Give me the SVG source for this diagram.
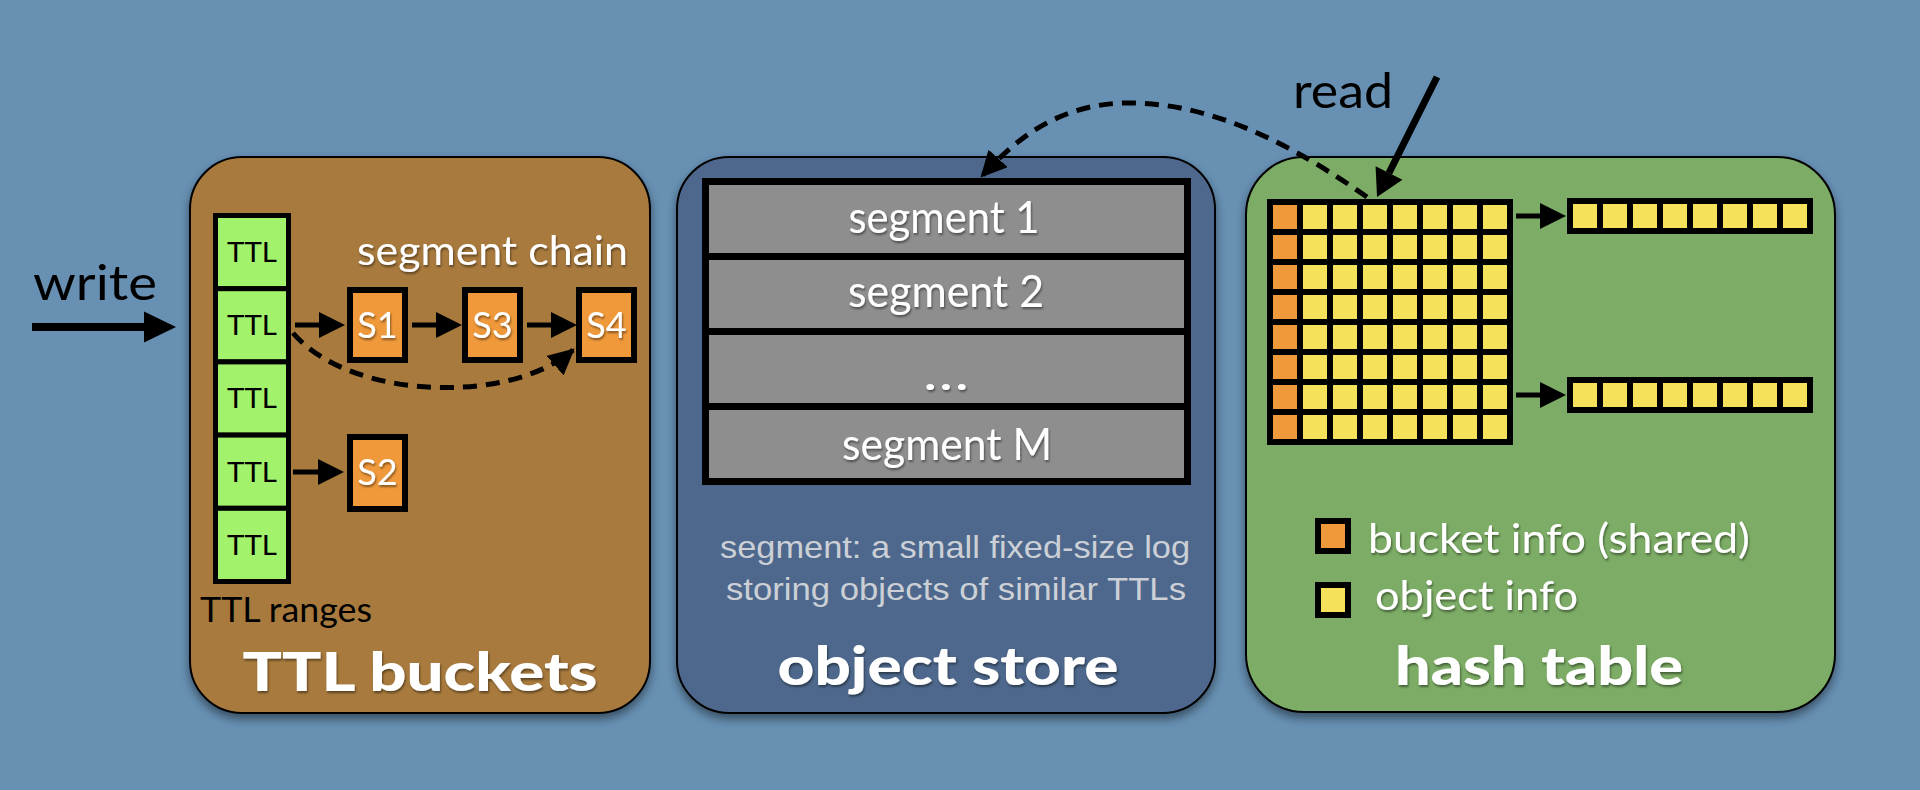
<svg xmlns="http://www.w3.org/2000/svg" width="1920" height="790" viewBox="0 0 1920 790">
<defs>
<style>
.panel{stroke:#000;stroke-width:2}
.ttl{fill:#a2f26b;stroke:#000;stroke-width:5}
.seg{fill:#f0993a;stroke:#000;stroke-width:6}
.row{fill:#8e8e8e;stroke:#000;stroke-width:7}
.cellO{fill:#f0993a}
.cellY{fill:#f5e15a}
.t{font-family:Lato,"Open Sans","Liberation Sans",sans-serif}
.title{font-family:Lato,"Open Sans","Liberation Sans",sans-serif;font-weight:900;font-size:54px;fill:#fff;text-anchor:middle}
.w{fill:#fff}
.k{fill:#000}
.c{text-anchor:middle}
.cap{font-family:"Liberation Sans",Arial,sans-serif;font-size:32px;fill:#ccd0d6;text-anchor:middle}
.arr{stroke:#000;stroke-width:5;fill:none}
.dash{stroke:#000;stroke-width:5;fill:none;stroke-dasharray:14 9}
</style>
<filter id="pshadow" x="-10%" y="-10%" width="120%" height="125%">
<feDropShadow dx="0" dy="5" stdDeviation="5" flood-color="#000" flood-opacity="0.45"/>
</filter>
<filter id="tshadow" x="-10%" y="-20%" width="120%" height="150%">
<feDropShadow dx="1" dy="2" stdDeviation="1.2" flood-color="#000" flood-opacity="0.45"/>
</filter>
<marker id="ah" markerUnits="userSpaceOnUse" markerWidth="26" markerHeight="26" viewBox="0 0 24 24" refX="0" refY="12" orient="auto">
<path d="M0,0 L24,12 L0,24 z" fill="#000"/>
</marker>
<marker id="ahBig" markerUnits="userSpaceOnUse" markerWidth="32" markerHeight="32" viewBox="0 0 31 30" refX="0" refY="15" orient="auto">
<path d="M0,0 L31,15 L0,30 z" fill="#000"/>
</marker>
<marker id="ahRead" markerUnits="userSpaceOnUse" markerWidth="28" markerHeight="30" viewBox="0 0 25 28" refX="0" refY="14" orient="auto">
<path d="M0,0 L25,14 L0,28 z" fill="#000"/>
</marker>
<marker id="ahTip" markerUnits="userSpaceOnUse" markerWidth="26" markerHeight="26" viewBox="0 0 24 24" refX="22" refY="12" orient="auto">
<path d="M0,0 L24,12 L0,24 z" fill="#000"/>
</marker>
</defs>

<rect x="0" y="0" width="1920" height="790" fill="#6790b3"/>

<g id="ttl-buckets">
<rect class="panel" x="190" y="157" width="460" height="556" rx="52" ry="52" fill="#a87a3e" filter="url(#pshadow)"/>
<text class="title" x="420" y="691" filter="url(#tshadow)" textLength="355" lengthAdjust="spacingAndGlyphs">TTL buckets</text>
<text class="t w" x="357" y="265" font-size="41" textLength="271" lengthAdjust="spacingAndGlyphs" filter="url(#tshadow)">segment chain</text>
<text class="t k" x="200" y="622" font-size="34" textLength="172" lengthAdjust="spacingAndGlyphs">TTL ranges</text>
</g>

<g id="ttl-1"><rect class="ttl" x="215.5" y="215.5" width="73" height="73.2"/><text class="t k c" x="252" y="262" font-size="27" textLength="50" lengthAdjust="spacingAndGlyphs">TTL</text></g>
<g id="ttl-2"><rect class="ttl" x="215.5" y="288.7" width="73" height="73.2"/><text class="t k c" x="252" y="335" font-size="27" textLength="50" lengthAdjust="spacingAndGlyphs">TTL</text></g>
<g id="ttl-3"><rect class="ttl" x="215.5" y="361.9" width="73" height="73.2"/><text class="t k c" x="252" y="408" font-size="27" textLength="50" lengthAdjust="spacingAndGlyphs">TTL</text></g>
<g id="ttl-4"><rect class="ttl" x="215.5" y="435.1" width="73" height="73.2"/><text class="t k c" x="252" y="482" font-size="27" textLength="50" lengthAdjust="spacingAndGlyphs">TTL</text></g>
<g id="ttl-5"><rect class="ttl" x="215.5" y="508.3" width="73" height="73.2"/><text class="t k c" x="252" y="555" font-size="27" textLength="50" lengthAdjust="spacingAndGlyphs">TTL</text></g>

<g id="s1"><rect class="seg" x="350" y="290" width="55" height="70"/><text class="t w c" x="377.5" y="338" font-size="36" filter="url(#tshadow)">S1</text></g>
<g id="s3"><rect class="seg" x="465" y="290" width="55" height="70"/><text class="t w c" x="492.5" y="338" font-size="36" filter="url(#tshadow)">S3</text></g>
<g id="s4"><rect class="seg" x="579" y="290" width="55" height="70"/><text class="t w c" x="606.5" y="338" font-size="36" filter="url(#tshadow)">S4</text></g>
<g id="s2"><rect class="seg" x="350" y="437" width="55" height="72"/><text class="t w c" x="377.5" y="485" font-size="36" filter="url(#tshadow)">S2</text></g>

<g id="write-label"><text class="t k" x="33" y="300" font-size="48" textLength="124" lengthAdjust="spacingAndGlyphs">write</text></g>

<g id="object-store">
<rect class="panel" x="677" y="157" width="538" height="556" rx="52" ry="52" fill="#4e688c" filter="url(#pshadow)"/>
<text class="title" x="948" y="685" filter="url(#tshadow)" textLength="341" lengthAdjust="spacingAndGlyphs">object store</text>
<text class="cap" x="955" y="558" textLength="470" lengthAdjust="spacingAndGlyphs">segment: a small fixed-size log</text>
<text class="cap" x="956" y="600" textLength="460" lengthAdjust="spacingAndGlyphs">storing objects of similar TTLs</text>
</g>
<g id="segment-1"><rect class="row" x="705.5" y="181.5" width="482" height="75"/><text class="t w c" x="944" y="233" font-size="44" textLength="191" lengthAdjust="spacingAndGlyphs" filter="url(#tshadow)">segment 1</text></g>
<g id="segment-2"><rect class="row" x="705.5" y="256.5" width="482" height="75"/><text class="t w c" x="946" y="307" font-size="44" textLength="196" lengthAdjust="spacingAndGlyphs" filter="url(#tshadow)">segment 2</text></g>
<g id="segment-dots"><rect class="row" x="705.5" y="331.5" width="482" height="75"/><text class="t w c" x="946" y="390" font-size="48" textLength="46" lengthAdjust="spacingAndGlyphs" filter="url(#tshadow)">…</text></g>
<g id="segment-m"><rect class="row" x="705.5" y="406.5" width="482" height="75"/><text class="t w c" x="947" y="460" font-size="44" textLength="210" lengthAdjust="spacingAndGlyphs" filter="url(#tshadow)">segment M</text></g>

<g id="hash-table">
<rect class="panel" x="1246" y="157" width="589" height="555" rx="58" ry="58" fill="#7bac65" filter="url(#pshadow)"/>
<text class="title" x="1539" y="685" filter="url(#tshadow)" textLength="288" lengthAdjust="spacingAndGlyphs">hash table</text>
</g>
<g id="bucket-grid">
<rect x="1267" y="199" width="246" height="246" fill="#000"/>
<g class="cellO">
<rect x="1273" y="205" width="24" height="24"/><rect x="1273" y="235" width="24" height="24"/><rect x="1273" y="265" width="24" height="24"/><rect x="1273" y="295" width="24" height="24"/><rect x="1273" y="325" width="24" height="24"/><rect x="1273" y="355" width="24" height="24"/><rect x="1273" y="385" width="24" height="24"/><rect x="1273" y="415" width="24" height="24"/>
</g>
<g class="cellY">
<rect x="1303" y="205" width="24" height="24"/><rect x="1333" y="205" width="24" height="24"/><rect x="1363" y="205" width="24" height="24"/><rect x="1393" y="205" width="24" height="24"/><rect x="1423" y="205" width="24" height="24"/><rect x="1453" y="205" width="24" height="24"/><rect x="1483" y="205" width="24" height="24"/>
<rect x="1303" y="235" width="24" height="24"/><rect x="1333" y="235" width="24" height="24"/><rect x="1363" y="235" width="24" height="24"/><rect x="1393" y="235" width="24" height="24"/><rect x="1423" y="235" width="24" height="24"/><rect x="1453" y="235" width="24" height="24"/><rect x="1483" y="235" width="24" height="24"/>
<rect x="1303" y="265" width="24" height="24"/><rect x="1333" y="265" width="24" height="24"/><rect x="1363" y="265" width="24" height="24"/><rect x="1393" y="265" width="24" height="24"/><rect x="1423" y="265" width="24" height="24"/><rect x="1453" y="265" width="24" height="24"/><rect x="1483" y="265" width="24" height="24"/>
<rect x="1303" y="295" width="24" height="24"/><rect x="1333" y="295" width="24" height="24"/><rect x="1363" y="295" width="24" height="24"/><rect x="1393" y="295" width="24" height="24"/><rect x="1423" y="295" width="24" height="24"/><rect x="1453" y="295" width="24" height="24"/><rect x="1483" y="295" width="24" height="24"/>
<rect x="1303" y="325" width="24" height="24"/><rect x="1333" y="325" width="24" height="24"/><rect x="1363" y="325" width="24" height="24"/><rect x="1393" y="325" width="24" height="24"/><rect x="1423" y="325" width="24" height="24"/><rect x="1453" y="325" width="24" height="24"/><rect x="1483" y="325" width="24" height="24"/>
<rect x="1303" y="355" width="24" height="24"/><rect x="1333" y="355" width="24" height="24"/><rect x="1363" y="355" width="24" height="24"/><rect x="1393" y="355" width="24" height="24"/><rect x="1423" y="355" width="24" height="24"/><rect x="1453" y="355" width="24" height="24"/><rect x="1483" y="355" width="24" height="24"/>
<rect x="1303" y="385" width="24" height="24"/><rect x="1333" y="385" width="24" height="24"/><rect x="1363" y="385" width="24" height="24"/><rect x="1393" y="385" width="24" height="24"/><rect x="1423" y="385" width="24" height="24"/><rect x="1453" y="385" width="24" height="24"/><rect x="1483" y="385" width="24" height="24"/>
<rect x="1303" y="415" width="24" height="24"/><rect x="1333" y="415" width="24" height="24"/><rect x="1363" y="415" width="24" height="24"/><rect x="1393" y="415" width="24" height="24"/><rect x="1423" y="415" width="24" height="24"/><rect x="1453" y="415" width="24" height="24"/><rect x="1483" y="415" width="24" height="24"/>
</g>
</g>
<g id="chain-row-1">
<rect x="1567" y="198" width="246" height="36" fill="#000"/>
<g class="cellY"><rect x="1573" y="204" width="24" height="24"/><rect x="1603" y="204" width="24" height="24"/><rect x="1633" y="204" width="24" height="24"/><rect x="1663" y="204" width="24" height="24"/><rect x="1693" y="204" width="24" height="24"/><rect x="1723" y="204" width="24" height="24"/><rect x="1753" y="204" width="24" height="24"/><rect x="1783" y="204" width="24" height="24"/></g>
</g>
<g id="chain-row-2">
<rect x="1567" y="377" width="246" height="36" fill="#000"/>
<g class="cellY"><rect x="1573" y="383" width="24" height="24"/><rect x="1603" y="383" width="24" height="24"/><rect x="1633" y="383" width="24" height="24"/><rect x="1663" y="383" width="24" height="24"/><rect x="1693" y="383" width="24" height="24"/><rect x="1723" y="383" width="24" height="24"/><rect x="1753" y="383" width="24" height="24"/><rect x="1783" y="383" width="24" height="24"/></g>
</g>
<g id="legend">
<rect x="1315" y="518" width="36" height="36" fill="#000"/><rect class="cellO" x="1321" y="524" width="24" height="24"/>
<text class="t w" x="1368" y="553" font-size="40" textLength="382" lengthAdjust="spacingAndGlyphs" filter="url(#tshadow)">bucket info (shared)</text>
<rect x="1315" y="582" width="36" height="36" fill="#000"/><rect class="cellY" x="1321" y="588" width="24" height="24"/>
<text class="t w" x="1375" y="610" font-size="40" textLength="203" lengthAdjust="spacingAndGlyphs" filter="url(#tshadow)">object info</text>
</g>
<g id="read-label"><text class="t k" x="1293" y="108" font-size="48" textLength="100" lengthAdjust="spacingAndGlyphs">read</text></g>

<g id="connectors">
<line x1="32" y1="327" x2="144" y2="327" stroke="#000" stroke-width="8" marker-end="url(#ahBig)"/>
<line class="arr" x1="295" y1="325" x2="319" y2="325" marker-end="url(#ah)"/>
<line class="arr" x1="412" y1="325" x2="436" y2="325" marker-end="url(#ah)"/>
<line class="arr" x1="527" y1="325" x2="551" y2="325" marker-end="url(#ah)"/>
<line class="arr" x1="293" y1="472" x2="318" y2="472" marker-end="url(#ah)"/>
<path class="dash" d="M293,333 C350,400 510,405 573,350" marker-end="url(#ahTip)"/>
<path class="dash" d="M1367,197 C1300,150 1220,105 1135,103 C1060,101 1015,140 982,176" marker-end="url(#ahTip)"/>
<line x1="1437" y1="77" x2="1389" y2="173" stroke="#000" stroke-width="7" marker-end="url(#ahRead)"/>
<line class="arr" x1="1516" y1="216" x2="1540" y2="216" marker-end="url(#ah)"/>
<line class="arr" x1="1516" y1="395" x2="1540" y2="395" marker-end="url(#ah)"/>
</g>
</svg>
